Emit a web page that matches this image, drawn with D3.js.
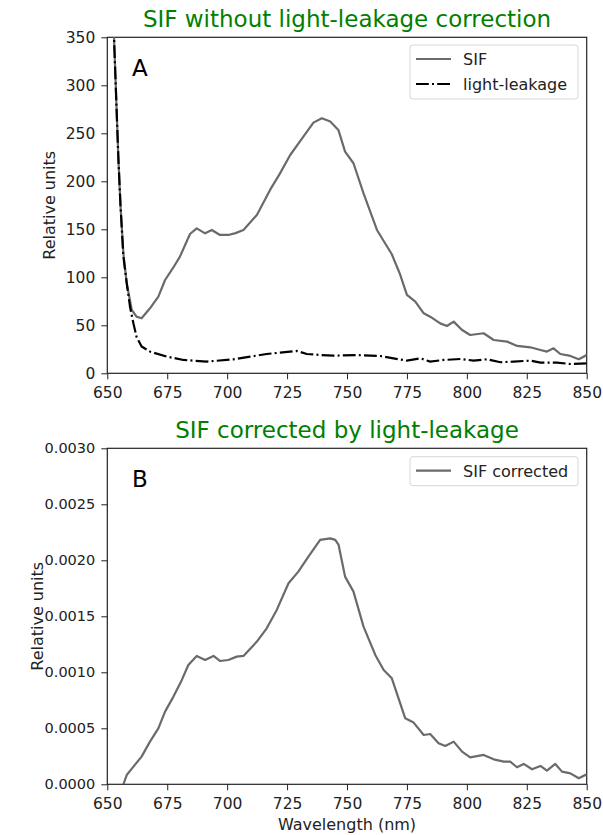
<!DOCTYPE html>
<html>
<head>
<meta charset="utf-8">
<script src="https://cdn.jsdelivr.net/npm/d3@7"></script>
<style>
  body { margin: 0; background: #fff; }
  svg { font-family: "DejaVu Sans", sans-serif; }
</style>
</head>
<body>
<div id="chart"></div>
<script>
// panel A - SIF before correction
var sifWl = [651.5, 652.8, 654.6, 655.5, 656.7, 658.1, 660.2, 662.2, 664.3, 667.8, 671.3, 674.1, 677.5, 680.3, 684.5, 687.3, 690.8, 693.6, 697.0, 700.5, 703.5, 706.8, 712.4, 717.9, 722.0, 726.3, 731.8, 736.0, 739.5, 743.0, 746.4, 749.2, 752.7, 756.9, 762.5, 768.7, 772.0, 775.0, 778.5, 782.0, 784.7, 788.9, 791.7, 794.5, 798.0, 801.4, 807.0, 811.2, 816.8, 821.0, 826.5, 830.7, 833.4, 836.2, 839.0, 843.2, 846.7, 850.0];
var sifVal = [420, 350, 225, 175, 125, 94, 66, 59, 57.3, 67.7, 79.9, 97.2, 110, 121.5, 145.1, 151, 145.8, 149.3, 144.1, 144.1, 146, 149.3, 164.9, 191, 208, 227.4, 246.5, 261.1, 265.6, 262.2, 253.5, 230.9, 218.8, 187.5, 149.3, 124, 104, 81.6, 74.7, 62.5, 59, 52, 49.3, 53.8, 45.1, 39.9, 41.7, 34.7, 33, 28.5, 27.1, 24.3, 22.6, 26, 20.1, 18.1, 14.6, 19];

var leakWl = [651.5, 652.8, 654.6, 655.5, 656.7, 658.1, 659.5, 660.9, 662.2, 664.3, 667.8, 674.8, 681.7, 691.5, 702.6, 709.6, 716.5, 722.1, 729.1, 733.2, 738.8, 744.4, 754.0, 763.9, 769.4, 775.0, 780.6, 784.7, 790.3, 797.3, 802.8, 808.4, 814.0, 819.5, 826.5, 830.7, 837.6, 843.2, 850.0];
var leakVal = [430, 350, 225, 175, 122, 94, 69, 52, 38, 28, 22.6, 17.4, 13.9, 12.2, 14.6, 17.4, 20.1, 21.5, 23.3, 20.1, 19.1, 18.4, 19, 18, 15.6, 13.2, 15.6, 12.2, 13.9, 14.9, 13.2, 14.6, 11.5, 12.2, 13.2, 11.1, 11.1, 9.7, 10.4];

// panel B - SIF corrected
var corrWl = [656.7, 658.1, 660.9, 664.3, 667.8, 671.3, 674.1, 677.6, 681.1, 683.8, 687.3, 690.8, 694.3, 697.0, 700.5, 704.0, 706.8, 712.4, 716.5, 720.7, 725.6, 729.7, 733.9, 738.8, 743.0, 745.1, 746.5, 749.2, 752.7, 756.9, 761.8, 765.3, 768.7, 774.3, 777.8, 782.0, 784.7, 788.2, 791.0, 794.5, 798.0, 801.4, 807.0, 811.2, 815.4, 818.1, 820.9, 823.7, 827.2, 830.7, 833.4, 836.9, 839.7, 843.2, 846.7, 850.0];
var corrVal = [0, 0.000083, 0.000158, 0.000247, 0.000381, 0.0005, 0.000649, 0.000783, 0.000932, 0.001065, 0.001146, 0.00111, 0.001146, 0.001101, 0.00111, 0.00114, 0.001146, 0.001274, 0.001393, 0.001557, 0.001795, 0.001899, 0.002033, 0.002182, 0.002196, 0.002182, 0.002137, 0.001854, 0.00172, 0.001408, 0.001155, 0.001021, 0.000946, 0.000589, 0.000551, 0.00044, 0.000449, 0.000366, 0.000342, 0.000381, 0.000292, 0.000241, 0.000262, 0.000223, 0.000202, 0.000202, 0.000152, 0.000182, 0.000134, 0.000164, 0.000122, 0.000182, 0.000113, 0.000098, 0.000054, 0.000089];

var xTicks = [650, 675, 700, 725, 750, 775, 800, 825, 850];
var yTicksA = [0, 50, 100, 150, 200, 250, 300, 350];
var yTicksB = [0, 0.0005, 0.001, 0.0015, 0.002, 0.0025, 0.003];

var W = 603, H = 835;
var left = 107.3, right = 586.7;
var svg = d3.select("#chart").append("svg").attr("width", W).attr("height", H);

var x = d3.scaleLinear().domain([650, 850]).range([left, right]);

function zip(a, b) {
    return a.map(function (d, i) { return [d, b[i]]; });
}

function panel(top, bottom, yMax, yTicks, fmt, id, yFont, labX) {
    var y = d3.scaleLinear().domain([0, yMax]).range([bottom, top]);
    var g = svg.append("g");
    svg.append("clipPath").attr("id", id).append("rect")
        .attr("x", left).attr("y", top).attr("width", right - left).attr("height", bottom - top);
    var xa = g.append("g").attr("transform", "translate(0," + bottom + ")")
        .call(d3.axisBottom(x).tickValues(xTicks).tickSize(6).tickPadding(7.5).tickSizeOuter(0));
    var ya = g.append("g").attr("transform", "translate(" + left + ",0)")
        .call(d3.axisLeft(y).tickValues(yTicks).tickFormat(fmt).tickSize(6).tickPadding(6).tickSizeOuter(0));
    [xa, ya].forEach(function (a) {
        a.select(".domain").remove();
        a.selectAll("line").attr("stroke", "#222").attr("stroke-width", 1);
        a.selectAll("text").attr("font-size", "15.5px").attr("fill", "#222")
            .attr("font-family", "DejaVu Sans");
    });
    ya.selectAll("text").attr("font-size", yFont);
    g.append("rect").attr("x", left).attr("y", top).attr("width", right - left).attr("height", bottom - top)
        .attr("fill", "none").attr("stroke", "#222").attr("stroke-width", 1.2);
    g.append("text").attr("transform", "translate(" + labX + "," + (top + bottom) / 2 + ") rotate(-90)")
        .attr("text-anchor", "middle").attr("font-size", "16px").attr("fill", "#222")
        .text("Relative units");
    return { y: y, g: g };
}

var pA = panel(37.3, 373.3, 350, yTicksA, d3.format("d"), "clipA", "15.5px", 55);
var pB = panel(448.3, 784.3, 0.003, yTicksB, d3.format(".4f"), "clipB", "14.5px", 43);

var lineA = d3.line().x(function (d) { return x(d[0]); }).y(function (d) { return pA.y(d[1]); });
var lineB = d3.line().x(function (d) { return x(d[0]); }).y(function (d) { return pB.y(d[1]); });

pA.g.append("path").attr("d", lineA(zip(sifWl, sifVal))).attr("clip-path", "url(#clipA)")
    .attr("fill", "none").attr("stroke", "#6a6a6a").attr("stroke-width", 2.2).attr("stroke-linejoin", "round");
pA.g.append("path").attr("d", lineA(zip(leakWl, leakVal))).attr("clip-path", "url(#clipA)")
    .attr("fill", "none").attr("stroke", "#000").attr("stroke-width", 2.2)
    .attr("stroke-dasharray", "12.8,3.2,2,3.2");
pB.g.append("path").attr("d", lineB(zip(corrWl, corrVal))).attr("clip-path", "url(#clipB)")
    .attr("fill", "none").attr("stroke", "#6a6a6a").attr("stroke-width", 2.2).attr("stroke-linejoin", "round");

// titles
svg.append("text").attr("x", (left + right) / 2).attr("y", 27).attr("text-anchor", "middle")
    .attr("font-size", "23px").attr("fill", "#008000").text("SIF without light-leakage correction");
svg.append("text").attr("x", (left + right) / 2).attr("y", 438).attr("text-anchor", "middle")
    .attr("font-size", "23px").attr("fill", "#008000").text("SIF corrected by light-leakage");
svg.append("text").attr("x", (left + right) / 2).attr("y", 830).attr("text-anchor", "middle")
    .attr("font-size", "16px").attr("fill", "#222").text("Wavelength (nm)");

// panel letters
svg.append("text").attr("x", 132).attr("y", 76).attr("font-size", "23px").text("A");
svg.append("text").attr("x", 132).attr("y", 487).attr("font-size", "23px").text("B");

// legends
function legend(y0, items) {
    var h = 4 + items.length * 25;
    svg.append("rect").attr("x", 410).attr("y", y0).attr("width", 168).attr("height", h)
        .attr("rx", 3).attr("fill", "#fff").attr("fill-opacity", 0.8).attr("stroke", "#d6d6d6");
    items.forEach(function (it, i) {
        var cy = y0 + 14 + i * 25;
        svg.append("line").attr("x1", 416).attr("x2", 451).attr("y1", cy).attr("y2", cy)
            .attr("stroke", it.color).attr("stroke-width", 2.2).attr("stroke-dasharray", it.dash);
        svg.append("text").attr("x", 463).attr("y", cy + 6).attr("font-size", "16px").attr("fill", "#222").text(it.label);
    });
}
legend(45, [{ label: "SIF", color: "#6a6a6a", dash: null }, { label: "light-leakage", color: "#000", dash: "12.8,3.2,2,3.2" }]);
legend(456.7, [{ label: "SIF corrected", color: "#6a6a6a", dash: null }]);
</script>
</body>
</html>
